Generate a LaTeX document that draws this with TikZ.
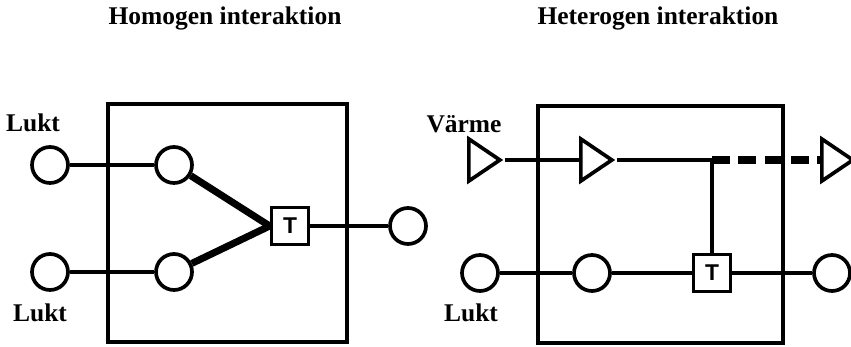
\documentclass[tikz,border=0pt]{standalone}
\usepackage{fontspec}
\setmainfont{Liberation Serif}
\setsansfont{Liberation Sans}
\usetikzlibrary{shapes.geometric}
\tikzset{
  sense/.style={circle,draw,line width=2.1pt,minimum size=0.72cm,inner sep=0pt},
  trig/.style={isosceles triangle,isosceles triangle stretches,draw,line width=2.1pt,
    minimum width=0.84cm,minimum height=0.62cm,inner sep=0pt,anchor=center},
  tbox/.style={draw,line width=2.1pt,minimum size=0.74cm,inner sep=0pt,
    font=\sffamily\bfseries\fontsize{13}{13}\selectfont},
  lbl/.style={font=\bfseries\fontsize{14.5}{14.5}\selectfont,inner sep=0pt,anchor=base},
  wire/.style={line width=2.1pt},
  fatwire/.style={line width=4pt}
}
\begin{document}
\begin{tikzpicture}[x=0.02cm,y=-0.02cm]
    \useasboundingbox (0,0) rectangle (851,347);
    % Rubriker
    \node[lbl] (hom) at (225,25) {Homogen interaktion};
    \node[lbl] (het) at (658,25) {Heterogen interaktion};

    % Homogen interaktion
    \draw[line width=2.5pt] (108,104) rectangle (347,342);
    \node[sense] (ul) at (50,165) {};
    \node[sense] (ll) at (50,272) {};
    \node[sense] (ui) at (174,165) {};
    \node[sense] (li) at (174,272) {};
    \node[tbox] (t1) at (290,226) {T};
    \node[sense] (ut) at (408,226) {};
    \node[lbl] (lukt1) at (33,132) {Lukt};
    \node[lbl] (lukt2) at (40,321) {Lukt};
    \draw[wire] (ul) -- (ui);
    \draw[wire] (ll) -- (li);
    \draw[fatwire] (ui) -- (t1.west);
    \draw[fatwire] (li) -- (t1.west);
    \draw[wire] (t1) -- (ut);

    % Heterogen interaktion
    \draw[line width=2.5pt] (538,106) rectangle (783,343);
    \node[trig] (vl) at (480,160) {};
    \node[trig] (vi) at (592,160) {};
    \node[trig] (vu) at (833,160) {};
    \coordinate (kn) at (712,160);
    \node[sense] (bl) at (480,273) {};
    \node[sense] (bi) at (592,273) {};
    \node[tbox] (t2) at (712,273) {T};
    \node[sense] (bu) at (832,273) {};
    \node[lbl] (varme) at (464,133) {Värme};
    \node[lbl] (lukt3) at (471,321) {Lukt};
    \draw[wire] (vl.apex) -- (vi.west);
    \draw[wire] (vi.apex) -- (kn) -- (t2.north);
    \draw[fatwire,dash pattern=on 10pt off 5pt] (kn) -- (vu.west);
    \draw[wire] (bl) -- (bi) -- (t2) -- (bu);
\end{tikzpicture}
\end{document}
